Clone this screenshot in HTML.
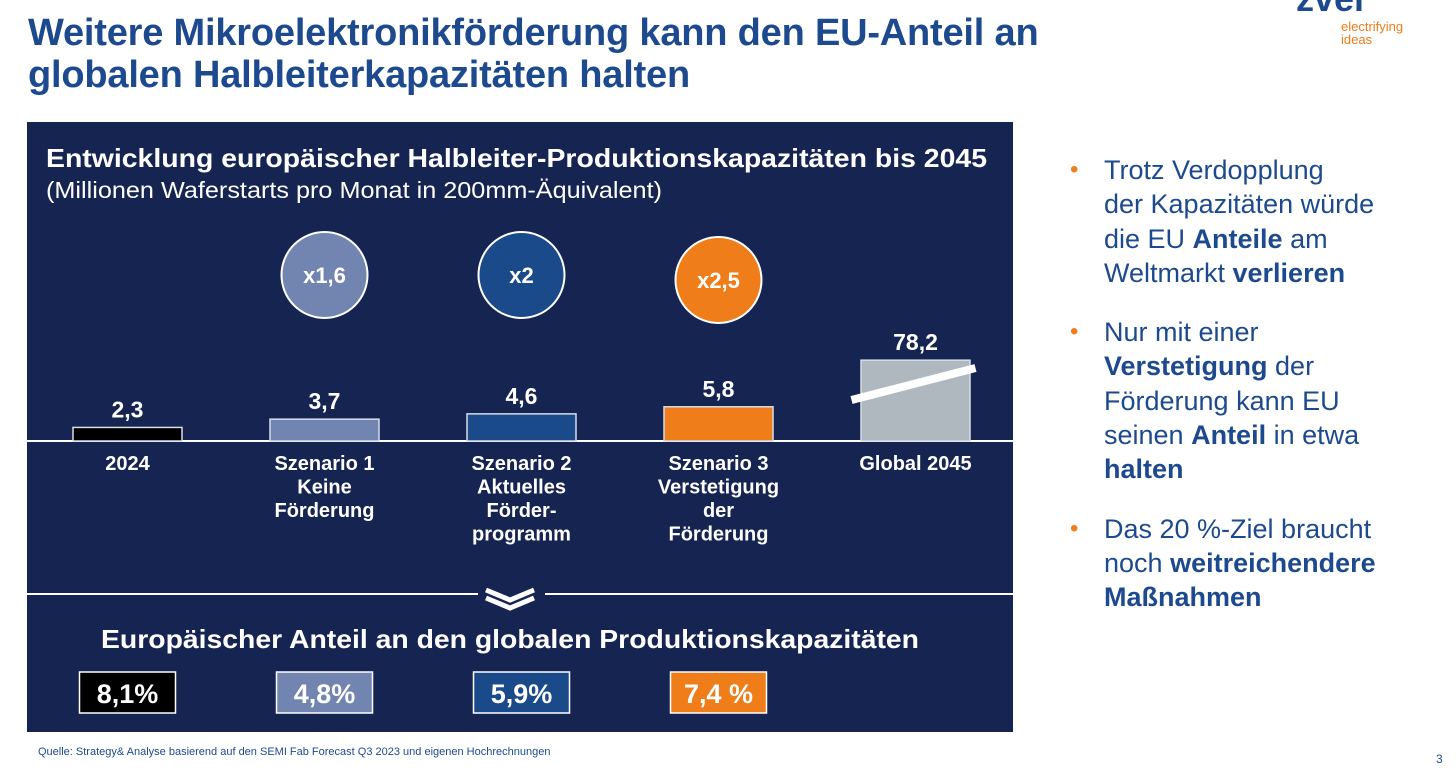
<!DOCTYPE html>
<html><head><meta charset="utf-8"><style>
body{margin:0;width:1456px;height:777px;background:#fff;font-family:"Liberation Sans",Arial,sans-serif;position:relative;overflow:hidden}
.t{position:absolute;margin:0}
</style></head><body>
<h1 class="t" style="left:28px;top:12px;font-size:38px;line-height:42px;color:#1d4a8e;font-weight:bold;letter-spacing:-0.2px;white-space:nowrap">Weitere Mikroelektronikförderung kann den EU-Anteil an<br>globalen Halbleiterkapazitäten halten</h1>
<div class="t" style="left:1296px;top:-22px;font-size:36px;font-weight:bold;color:#1d4a8e">zvei</div>
<div class="t" style="left:1341px;top:20px;font-size:13px;line-height:13px;color:#ee7d1a">electrifying<br>ideas</div>

<svg class="t" style="left:0;top:0" width="1456" height="777">
<rect x="27" y="122" width="986" height="610" fill="#162452"/>
<text x="46" y="167" fill="#fff" font-size="26" font-weight="bold" textLength="941" lengthAdjust="spacingAndGlyphs">Entwicklung europäischer Halbleiter-Produktionskapazitäten bis 2045</text>
<text x="46" y="198" fill="#fff" font-size="23" textLength="616" lengthAdjust="spacingAndGlyphs">(Millionen Waferstarts pro Monat in 200mm-Äquivalent)</text>
<line x1="27" y1="441" x2="1013" y2="441" stroke="#fff" stroke-width="2"/>
<line x1="27" y1="594" x2="478" y2="594" stroke="#fff" stroke-width="2"/>
<line x1="545" y1="594" x2="1013" y2="594" stroke="#fff" stroke-width="2"/>
<polyline points="486,590 510,600 534,590" fill="none" stroke="#fff" stroke-width="5"/>
<polyline points="486,598 510,608 534,598" fill="none" stroke="#fff" stroke-width="5"/>
<text x="101" y="648" fill="#fff" font-size="26" font-weight="bold" textLength="818" lengthAdjust="spacingAndGlyphs">Europäischer Anteil an den globalen Produktionskapazitäten</text>
<g id="g"></g>
</svg>

<div class="t" style="left:1070px;top:153px;width:386px;font-size:27px;line-height:34.3px;color:#1d4a8e;white-space:nowrap">
<div style="position:relative;padding-left:34px"><span style="position:absolute;left:0;color:#ee7d1a;font-size:24px">•</span>Trotz Verdopplung<br>der Kapazitäten würde<br>die EU <b>Anteile</b> am<br>Weltmarkt <b>verlieren</b></div>
<div style="position:relative;padding-left:34px;margin-top:25px"><span style="position:absolute;left:0;color:#ee7d1a;font-size:24px">•</span>Nur mit einer<br><b>Verstetigung</b> der<br>Förderung kann EU<br>seinen <b>Anteil</b> in etwa<br><b>halten</b></div>
<div style="position:relative;padding-left:34px;margin-top:25px"><span style="position:absolute;left:0;color:#ee7d1a;font-size:24px">•</span>Das 20 %-Ziel braucht<br>noch <b>weitreichendere</b><br><b>Maßnahmen</b></div>
</div>
<div class="t" style="left:38px;top:746px;font-size:11px;color:#1d4a8e">Quelle: Strategy&amp; Analyse basierend auf den SEMI Fab Forecast Q3 2023 und eigenen Hochrechnungen</div>
<div class="t" style="left:1436px;top:752px;font-size:12px;color:#1d4a8e">3</div>

<script>
const categories=[["2024"],["Szenario 1","Keine","Förderung"],["Szenario 2","Aktuelles","Förder-","programm"],["Szenario 3","Verstetigung","der","Förderung"],["Global 2045"]];
const values=[2.3,3.7,4.6,5.8,78.2];
const valueLabels=["2,3","3,7","4,6","5,8","78,2"];
const multipliers=["","x1,6","x2","x2,5",""];
const shares=["8,1%","4,8%","5,9%","7,4 %"];
const colors=["#000","#7284b0","#1b4a8a","#ee7d1a","#b0b8bf"];
const NS="http://www.w3.org/2000/svg";
const g=document.getElementById('g');
const base=441, x0=73, step=197, bw=109;
function y(v){return base-(v<=10?v*5.9:59+(v-10)*0.32);}
function xc(i){return x0+i*step+bw/2;}
function mk(t,a,txt){const e=document.createElementNS(NS,t);for(const k in a)e.setAttribute(k,a[k]);if(txt!=null)e.textContent=txt;g.appendChild(e);return e;}
values.forEach((v,i)=>{
 const r=mk('rect',{x:xc(i)-bw/2,y:y(v),width:bw,height:base-y(v),fill:colors[i],stroke:'#d8dde8','stroke-width':1.5});
 
 
 const t=mk('text',{x:xc(i),y:y(v)-10,fill:'#fff','font-size':23,'font-weight':'bold','text-anchor':'middle'},valueLabels[i]);
 
 
 categories[i].forEach((l,j)=>{
  const c=mk('text',{x:xc(i),y:470+j*23.5,fill:'#fff','font-size':20,'font-weight':'bold','text-anchor':'middle'},l);
  
  
 });
 if(multipliers[i]){
  const cy=i==3?280:275;
  const c=mk('circle',{cx:xc(i),cy:cy,r:43,fill:colors[i],stroke:'#fff','stroke-width':2});
  
  
  const m=mk('text',{x:xc(i),y:cy+8,fill:'#fff','font-size':22,'font-weight':'bold','text-anchor':'middle'},multipliers[i]);
  
  
 }
 if(i<shares.length){
  const b=mk('rect',{x:xc(i)-48,y:672,width:96,height:41,fill:colors[i],stroke:'#fff','stroke-width':1.5});
  
  
  const s=mk('text',{x:xc(i),y:703,fill:'#fff','font-size':27,'font-weight':'bold','text-anchor':'middle'},shares[i]);
  
  
 }
});
const br=mk('line',{x1:xc(4)-64,y1:400,x2:xc(4)+60,y2:368,stroke:'#fff','stroke-width':8});


</script>
</body></html>
